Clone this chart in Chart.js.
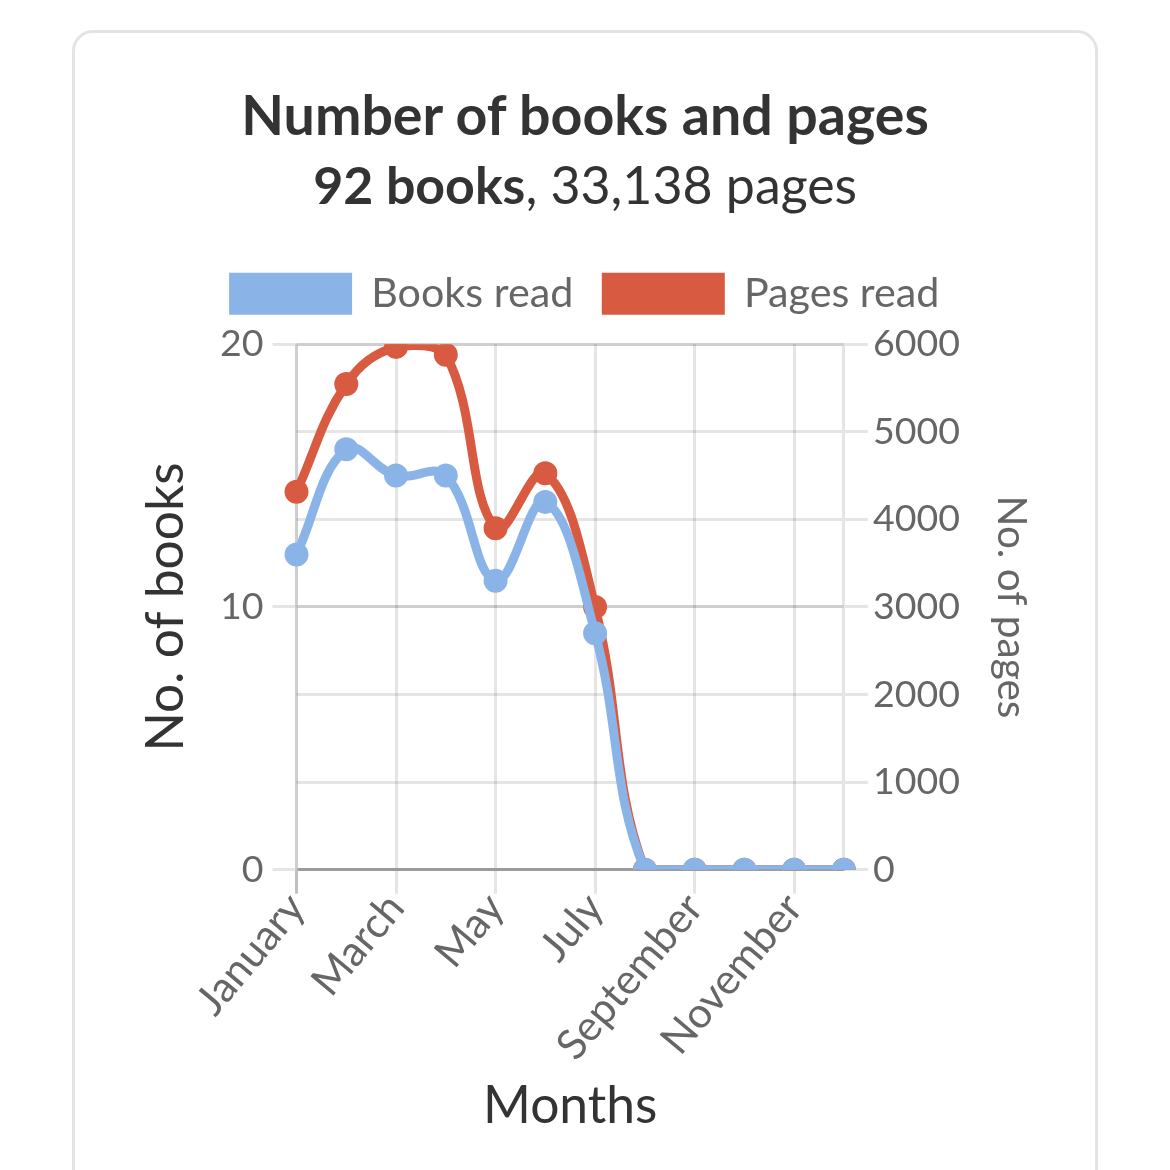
<!DOCTYPE html>
<html>
<head>
<meta charset="utf-8">
<script src="https://cdn.jsdelivr.net/npm/chart.js@4/dist/chart.umd.min.js"></script>
<style>
  html, body { margin: 0; padding: 0; background: #fff; }
  /* page is laid out at phone size (390px) and scaled up 3x */
  #page { position: absolute; left: 0; top: 0; width: 390px; height: 390px; transform: scale(3); transform-origin: 0 0; overflow: hidden; }
  .card { position: absolute; left: 24.3px; top: 10px; width: 339.5px; height: 420px; border: 1px solid #e4e4e4; border-radius: 7px; box-sizing: content-box; }
  .title { position: absolute; left: 0; width: 100%; text-align: center; font-family: Lato, sans-serif; color: #333; white-space: nowrap; line-height: 1.2; }
  #t1 { top: 15.8px; font-size: 18.5px; font-weight: bold; }
  #t2 { top: 41px; font-size: 17.3px; }
  #t2 b { font-weight: bold; }
  #chartBox { position: absolute; left: 15.8px; top: 70px; }
</style>
</head>
<body>
<div id="page">
  <div class="card">
    <div class="title" id="t1">Number of books and pages</div>
    <div class="title" id="t2"><b>92 books</b>, 33,138 pages</div>
    <div id="chartBox"><canvas id="chart" width="308.5" height="302.7"></canvas></div>
  </div>
</div>
<script>
const months = ['January', 'February', 'March', 'April', 'May', 'June',
  'July', 'August', 'September', 'October', 'November', 'December'];
const booksRead = [12, 16, 15, 15, 11, 14, 9, 0, 0, 0, 0, 0];
const pagesRead = [4315, 5545, 5970, 5880, 3900, 4528, 3000, 0, 0, 0, 0, 0];
const booksTicks = [0, 10, 20];
const pagesTicks = [0, 1000, 2000, 3000, 4000, 5000, 6000];

const blue = '#8ab4e7';
const red = '#d85b41';
const lightGrid = 'rgba(0,0,0,0.1)';
const zeroLine = 'rgba(0,0,0,0.25)';

Chart.defaults.font.family = 'Lato, sans-serif';
Chart.defaults.color = '#666';

const ctx = document.getElementById('chart').getContext('2d');
new Chart(ctx, {
  type: 'line',
  data: {
    labels: months,
    datasets: [{
      label: 'Books read',
      data: booksRead,
      yAxisID: 'books',
      borderColor: blue,
      backgroundColor: blue,
      pointBackgroundColor: blue,
      pointBorderColor: blue,
      borderWidth: 3,
      pointRadius: 3.5,
      pointBorderWidth: 1,
      tension: 0.4,
      fill: false
    }, {
      label: 'Pages read',
      data: pagesRead,
      yAxisID: 'pages',
      borderColor: red,
      backgroundColor: red,
      pointBackgroundColor: red,
      pointBorderColor: red,
      borderWidth: 3,
      pointRadius: 3.5,
      pointBorderWidth: 1,
      tension: 0.4,
      fill: false
    }]
  },
  options: {
    responsive: false,
    devicePixelRatio: 3,
    animation: false,
    events: [],
    plugins: {
      legend: {
        position: 'top',
        labels: {
          boxWidth: 40,
          boxHeight: 13,
          padding: 10,
          font: { size: 13.75 },
          color: '#666',
          generateLabels: (chart) => Chart.defaults.plugins.legend.labels.generateLabels(chart)
            .map(item => Object.assign(item, { lineWidth: 1 }))
        }
      },
      tooltip: { enabled: false }
    },
    scales: {
      x: {
        ticks: { font: { size: 14 }, color: '#666', maxRotation: 50, padding: -3.3 },
        grid: {
          color: lightGrid,
          tickColor: (c) => c.index === 0 ? zeroLine : lightGrid,
          tickLength: 8
        },
        border: { color: lightGrid },
        title: { display: true, text: 'Months', font: { size: 17.2 }, color: '#333', padding: { top: 5, bottom: 4 } }
      },
      books: {
        type: 'linear',
        position: 'left',
        min: 0,
        max: 20,
        afterBuildTicks: (axis) => { axis.ticks = booksTicks.map(v => ({ value: v })); },
        ticks: { font: { size: 12.5 }, color: '#666' },
        grid: {
          color: (c) => c.tick && c.tick.value === 0 ? zeroLine : lightGrid,
          tickColor: lightGrid,
          tickLength: 8
        },
        border: { color: lightGrid },
        title: { display: true, text: 'No. of books', font: { size: 17.2 }, color: '#333', padding: { top: 4, bottom: 4.7 } }
      },
      pages: {
        type: 'linear',
        position: 'right',
        min: 0,
        max: 6000,
        afterBuildTicks: (axis) => { axis.ticks = pagesTicks.map(v => ({ value: v })); },
        ticks: { font: { size: 12.5 }, color: '#666', padding: 1.7, callback: (v) => String(v) },
        grid: { color: lightGrid, tickColor: lightGrid, tickLength: 8 },
        border: { color: lightGrid },
        title: { display: true, text: 'No. of pages', font: { size: 13.5 }, color: '#666', padding: { top: 4, bottom: 7.1 } }
      }
    }
  }
});
</script>
</body>
</html>
